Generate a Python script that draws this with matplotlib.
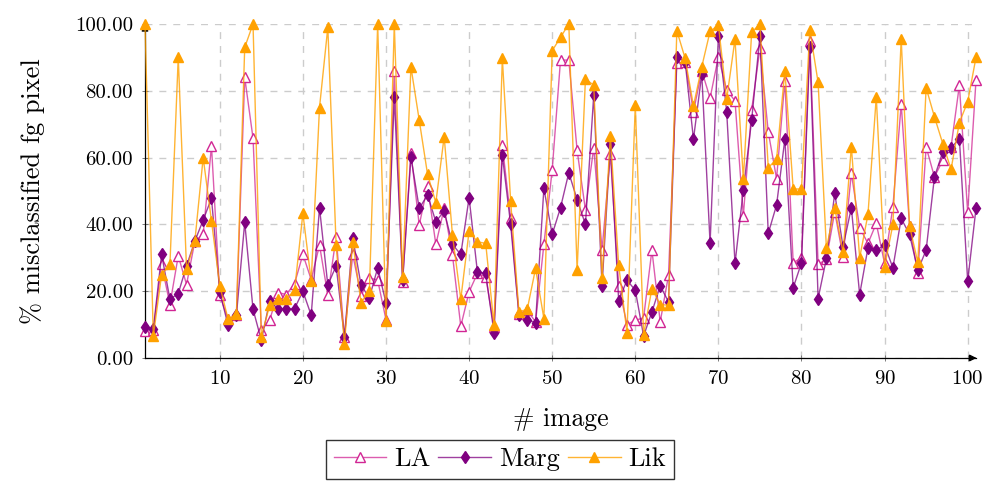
import matplotlib
matplotlib.use("Agg")
import matplotlib.pyplot as plt

# % misclassified fg pixel per image (1..101)
images = list(range(1, 102))

la = [8.0, 8.3, 28.0, 16.0, 30.6, 22.0, 35.0, 37.0, 63.5, 18.8,
      11.6, 12.8, 84.0, 65.8, 8.3, 11.3, 19.6, 19.0, 22.3, 31.0,
      23.5, 33.8, 18.8, 36.3, 6.3, 31.0, 18.6, 24.0, 23.3, 11.5,
      85.8, 22.8, 61.5, 39.8, 51.5, 34.0, 44.8, 30.8, 9.5, 19.8,
      25.3, 24.3, 9.3, 63.7, 41.8, 13.3, 14.3, 10.8, 34.0, 56.3,
      89.2, 89.2, 62.2, 44.3, 63.0, 32.3, 61.0, 21.7, 10.0, 11.3,
      12.0, 32.3, 10.8, 24.8, 88.2, 88.7, 73.7, 86.0, 77.8, 90.2,
      80.2, 77.0, 42.6, 74.2, 92.7, 67.7, 53.7, 83.0, 28.5, 30.0,
      95.0, 28.0, 29.6, 43.8, 30.3, 55.3, 39.0, 34.3, 40.3, 28.3,
      45.3, 76.0, 39.6, 25.3, 63.2, 54.2, 59.2, 63.2, 81.7, 43.6,
      83.2]

marg = [9.2, 8.6, 31.0, 17.6, 19.3, 27.6, 35.0, 41.3, 47.8, 19.8,
        9.8, 12.8, 40.6, 14.6, 5.3, 17.0, 14.8, 14.8, 14.8, 20.0,
        12.8, 45.0, 21.8, 27.6, 6.3, 36.0, 21.8, 18.0, 27.0, 16.5,
        78.0, 23.3, 60.2, 44.8, 48.8, 40.8, 44.0, 34.0, 31.0, 48.0,
        25.8, 25.3, 7.6, 60.7, 40.0, 12.8, 11.3, 10.6, 50.8, 37.0,
        45.0, 55.5, 47.4, 40.0, 78.7, 21.6, 64.0, 17.2, 23.3, 20.3,
        6.6, 13.8, 21.6, 16.8, 90.2, 88.7, 65.5, 85.0, 34.3, 96.5,
        73.7, 28.3, 50.2, 71.2, 96.5, 37.3, 45.8, 65.5, 21.0, 28.5,
        93.0, 17.8, 29.8, 49.3, 33.3, 45.0, 19.0, 33.0, 32.3, 33.8,
        27.0, 41.8, 37.0, 26.3, 32.3, 54.2, 61.7, 62.9, 65.7, 23.0,
        44.8]

lik = [100.0, 6.6, 25.0, 28.0, 90.0, 26.6, 35.0, 60.0, 41.0, 21.6,
       11.6, 13.3, 93.0, 100.0, 6.3, 15.8, 17.6, 17.6, 20.3, 43.3,
       23.0, 75.0, 99.0, 33.8, 4.3, 34.8, 16.6, 20.0, 100.0, 11.0,
       100.0, 24.3, 87.2, 71.2, 55.0, 46.5, 66.3, 36.8, 17.6, 38.0,
       34.8, 34.3, 9.8, 89.7, 47.0, 13.8, 14.6, 26.8, 11.8, 92.0,
       96.0, 100.0, 26.3, 83.5, 81.7, 24.0, 66.5, 27.8, 7.6, 75.7,
       7.0, 20.8, 16.0, 15.8, 98.0, 89.7, 75.5, 87.2, 97.8, 99.7,
       77.5, 95.5, 53.5, 97.5, 100.0, 57.0, 59.5, 86.0, 50.6, 50.6,
       98.3, 82.5, 32.8, 45.0, 31.6, 63.3, 30.0, 43.0, 78.2, 27.3,
       40.0, 95.5, 39.6, 28.6, 80.9, 72.2, 64.2, 56.5, 70.5, 76.7,
       90.0]

yticks = [0, 20, 40, 60, 80, 100]
xticks = [10, 20, 30, 40, 50, 60, 70, 80, 90, 100]

plt.rcParams['font.family'] = 'serif'
plt.rcParams['font.serif'] = ['cmr10']
plt.rcParams['mathtext.fontset'] = 'cm'
plt.rcParams['axes.formatter.use_mathtext'] = True

fig = plt.figure(figsize=(9.92, 4.88), dpi=100)
ax = fig.add_axes([145 / 992, 130 / 488, 831 / 992, 334 / 488])

c_la = (0.82, 0.15, 0.58)
c_marg = (0.50, 0.0, 0.50)
c_lik = (1.0, 0.63, 0.0)

ax.plot(images, la, color=c_la + (0.75,), lw=1.0, marker='^', ms=6.5,
        mfc='white', mec=c_la, mew=1.0, label='LA', clip_on=False, zorder=3)
ax.plot(images, marg, color=c_marg + (0.75,), lw=1.0, marker='d', ms=6.5,
        mfc=c_marg, mec=c_marg, label='Marg', clip_on=False, zorder=4)
ax.plot(images, lik, color=c_lik + (0.8,), lw=1.0, marker='^', ms=7,
        mfc=c_lik, mec=c_lik, label='Lik', clip_on=False, zorder=5)

ax.set_xlim(1, 101)
ax.set_ylim(0, 100)
ax.set_xticks(xticks)
ax.set_yticks(yticks)
ax.set_yticklabels(['%.2f' % v for v in yticks])
ax.tick_params(labelsize=15, direction='inout', length=5, width=0.6,
               color='0.4', pad=6)
ax.grid(True, color='0.8', linestyle=(0, (5, 5)), lw=1.0)
ax.set_axisbelow(True)

for s in ['top', 'right']:
    ax.spines[s].set_visible(False)
for s in ['left', 'bottom']:
    ax.spines[s].set_linewidth(0.9)

# axis arrows like pgfplots
ax.annotate('', xy=(1.004, 0), xytext=(0.99, 0), xycoords='axes fraction',
            arrowprops=dict(arrowstyle='-|>', color='k', lw=0.9,
                            mutation_scale=10))
ax.annotate('', xy=(0, 1.008), xytext=(0, 0.98), xycoords='axes fraction',
            arrowprops=dict(arrowstyle='-|>', color='k', lw=0.9,
                            mutation_scale=10))

ax.set_xlabel('# image', fontsize=18.5, labelpad=14)
ax.set_ylabel('% misclassified fg pixel', fontsize=19, labelpad=22)

ax.legend(loc='upper center', bbox_to_anchor=(0.427, -0.245), ncol=3,
          fontsize=19, frameon=True, fancybox=False, edgecolor='k',
          handlelength=2.0, handletextpad=0.3, columnspacing=0.3,
          borderpad=0.3, borderaxespad=0)

plt.savefig('out.png', dpi=100)
